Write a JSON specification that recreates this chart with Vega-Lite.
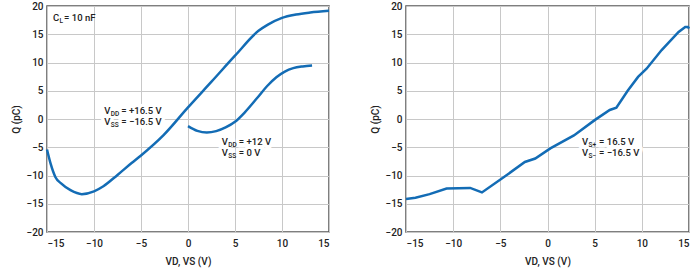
{
  "$schema": "https://vega.github.io/schema/vega-lite/v6.json",
  "background": "white",
  "padding": {"left": 10, "top": 0, "right": 11, "bottom": 6},
  "bounds": "flush",
  "spacing": 77,
  "config": {
    "font": "Roboto",
    "view": {"stroke": "#555555", "strokeWidth": 1.5},
    "axis": {
      "grid": true, "gridColor": "#c8c8c8", "gridWidth": 1,
      "domain": false, "ticks": false,
      "labelFont": "Roboto", "labelFontSize": 10, "labelFontWeight": 500, "labelColor": "#222222",
      "titleFont": "Roboto", "titleFontSize": 10, "titleFontWeight": 500, "titleColor": "#222222"
    },
    "axisX": {"labelPadding": 6, "titlePadding": 8},
    "axisY": {"labelPadding": 4, "titlePadding": 5}
  },
  "datasets": {
    "left_curves": [
      {"series": "A", "v": -15, "q": -5.4},
      {"series": "A", "v": -14.6, "q": -8.0},
      {"series": "A", "v": -14.1, "q": -10.3},
      {"series": "A", "v": -13.5, "q": -11.4},
      {"series": "A", "v": -12.5, "q": -12.6},
      {"series": "A", "v": -11.3, "q": -13.3},
      {"series": "A", "v": -10, "q": -12.8},
      {"series": "A", "v": -9, "q": -11.9},
      {"series": "A", "v": -7.5, "q": -9.9},
      {"series": "A", "v": -6, "q": -7.8},
      {"series": "A", "v": -5, "q": -6.45},
      {"series": "A", "v": -2.6, "q": -2.85},
      {"series": "A", "v": 0, "q": 2.05},
      {"series": "A", "v": 2.5, "q": 6.6},
      {"series": "A", "v": 5, "q": 11.2},
      {"series": "A", "v": 7.5, "q": 15.6},
      {"series": "A", "v": 8.5, "q": 16.7},
      {"series": "A", "v": 10, "q": 17.9},
      {"series": "A", "v": 11.5, "q": 18.5},
      {"series": "A", "v": 13, "q": 18.85},
      {"series": "A", "v": 15, "q": 19.15},
      {"series": "B", "v": 0, "q": -1.25},
      {"series": "B", "v": 1, "q": -2.1},
      {"series": "B", "v": 2, "q": -2.4},
      {"series": "B", "v": 3, "q": -2.15},
      {"series": "B", "v": 4, "q": -1.5},
      {"series": "B", "v": 5, "q": -0.5},
      {"series": "B", "v": 6, "q": 1.1},
      {"series": "B", "v": 7.4, "q": 3.8},
      {"series": "B", "v": 8.4, "q": 5.8},
      {"series": "B", "v": 9.4, "q": 7.4},
      {"series": "B", "v": 10.3, "q": 8.4},
      {"series": "B", "v": 11.2, "q": 9.0},
      {"series": "B", "v": 12.2, "q": 9.3},
      {"series": "B", "v": 13.2, "q": 9.45}
    ],
    "right_curve": [
      {"v": -15, "q": -14.15},
      {"v": -14, "q": -13.95},
      {"v": -12.5, "q": -13.3},
      {"v": -10.7, "q": -12.3},
      {"v": -8.2, "q": -12.2},
      {"v": -6.95, "q": -13.0},
      {"v": -4.8, "q": -10.5},
      {"v": -2.4, "q": -7.6},
      {"v": -1.3, "q": -7.0},
      {"v": 0.3, "q": -5.2},
      {"v": 2.8, "q": -2.9},
      {"v": 5, "q": -0.2},
      {"v": 6.6, "q": 1.6},
      {"v": 7.3, "q": 2.0},
      {"v": 8.5, "q": 5.0},
      {"v": 9.6, "q": 7.45},
      {"v": 10.5, "q": 8.9},
      {"v": 12.1, "q": 12.2},
      {"v": 13.9, "q": 15.4},
      {"v": 14.6, "q": 16.3},
      {"v": 14.9, "q": 16.3},
      {"v": 15, "q": 16.0}
    ],
    "left_notes": [
      {"v": -8.9, "q": 1.4, "m": "V", "s": "DD", "r": "= +16.5 V"},
      {"v": -8.9, "q": -0.6, "m": "V", "s": "SS", "r": "= −16.5 V"},
      {"v": 3.6, "q": -4.05, "m": "V", "s": "DD", "r": "= +12 V"},
      {"v": 3.6, "q": -6.0, "m": "V", "s": "SS", "r": "= 0 V"}
    ],
    "cl_note": [
      {"v": -14.35, "q": 17.8, "m": "C", "s": "L", "r": "= 10 nF"}
    ],
    "right_notes": [
      {"v": 3.66, "q": -4.05, "m": "V", "s": "S+", "r": "= 16.5 V"},
      {"v": 3.66, "q": -6.0, "m": "V", "s": "S−", "r": "= −16.5 V"}
    ]
  },
  "hconcat": [
    {
      "width": 282,
      "height": 226,
      "encoding": {
        "x": {"field": "v", "type": "quantitative", "title": "VD, VS (V)",
              "scale": {"domain": [-15, 15], "nice": false},
              "axis": {"values": [-15, -10, -5, 0, 5, 10, 15]}},
        "y": {"field": "q", "type": "quantitative", "title": "Q (pC)",
              "scale": {"domain": [-20, 20], "nice": false},
              "axis": {"values": [-20, -15, -10, -5, 0, 5, 10, 15, 20]}}
      },
      "layer": [
        {"data": {"name": "left_notes"},
         "mark": {"type": "text", "align": "left", "baseline": "middle", "fontSize": 9.5, "fontWeight": 500, "color": "white", "stroke": "white", "strokeWidth": 7, "strokeJoin": "round"},
         "encoding": {"text": {"field": "m"}}},
        {"data": {"name": "left_notes"},
         "mark": {"type": "text", "align": "left", "baseline": "middle", "dx": 17, "fontSize": 9.5, "fontWeight": 500, "color": "white", "stroke": "white", "strokeWidth": 7, "strokeJoin": "round"},
         "encoding": {"text": {"field": "r"}}},
        {"data": {"name": "left_curves"},
         "mark": {"type": "line", "interpolate": "monotone", "color": "#136cb5", "strokeWidth": 2.5},
         "encoding": {"detail": {"field": "series"}}},
        {"data": {"name": "left_notes"},
         "mark": {"type": "text", "align": "left", "baseline": "middle", "fontSize": 9.5, "fontWeight": 500, "color": "#222222"},
         "encoding": {"text": {"field": "m"}}},
        {"data": {"name": "left_notes"},
         "mark": {"type": "text", "align": "left", "baseline": "middle", "dx": 6.5, "dy": 3, "fontSize": 6.5, "fontWeight": 500, "color": "#222222"},
         "encoding": {"text": {"field": "s"}}},
        {"data": {"name": "left_notes"},
         "mark": {"type": "text", "align": "left", "baseline": "middle", "dx": 17, "fontSize": 9.5, "fontWeight": 500, "color": "#222222"},
         "encoding": {"text": {"field": "r"}}},
        {"data": {"name": "cl_note"},
         "mark": {"type": "text", "align": "left", "baseline": "middle", "fontSize": 9.5, "fontWeight": 500, "color": "#222222"},
         "encoding": {"text": {"field": "m"}}},
        {"data": {"name": "cl_note"},
         "mark": {"type": "text", "align": "left", "baseline": "middle", "dx": 6.3, "dy": 3, "fontSize": 6.5, "fontWeight": 500, "color": "#222222"},
         "encoding": {"text": {"field": "s"}}},
        {"data": {"name": "cl_note"},
         "mark": {"type": "text", "align": "left", "baseline": "middle", "dx": 11, "fontSize": 9.5, "fontWeight": 500, "color": "#222222"},
         "encoding": {"text": {"field": "r"}}}
      ]
    },
    {
      "width": 283,
      "height": 226,
      "encoding": {
        "x": {"field": "v", "type": "quantitative", "title": "VD, VS (V)",
              "scale": {"domain": [-15, 15], "nice": false},
              "axis": {"values": [-15, -10, -5, 0, 5, 10, 15]}},
        "y": {"field": "q", "type": "quantitative", "title": "Q (pC)",
              "scale": {"domain": [-20, 20], "nice": false},
              "axis": {"values": [-20, -15, -10, -5, 0, 5, 10, 15, 20]}}
      },
      "layer": [
        {"data": {"name": "right_notes"},
         "mark": {"type": "text", "align": "left", "baseline": "middle", "fontSize": 9.5, "fontWeight": 500, "color": "white", "stroke": "white", "strokeWidth": 7, "strokeJoin": "round"},
         "encoding": {"text": {"field": "m"}}},
        {"data": {"name": "right_notes"},
         "mark": {"type": "text", "align": "left", "baseline": "middle", "dx": 17, "fontSize": 9.5, "fontWeight": 500, "color": "white", "stroke": "white", "strokeWidth": 7, "strokeJoin": "round"},
         "encoding": {"text": {"field": "r"}}},
        {"data": {"name": "right_curve"},
         "mark": {"type": "line", "interpolate": "linear", "color": "#136cb5", "strokeWidth": 2.5},
         "encoding": {}},
        {"data": {"name": "right_notes"},
         "mark": {"type": "text", "align": "left", "baseline": "middle", "fontSize": 9.5, "fontWeight": 500, "color": "#222222"},
         "encoding": {"text": {"field": "m"}}},
        {"data": {"name": "right_notes"},
         "mark": {"type": "text", "align": "left", "baseline": "middle", "dx": 6.5, "dy": 3, "fontSize": 6.5, "fontWeight": 500, "color": "#222222"},
         "encoding": {"text": {"field": "s"}}},
        {"data": {"name": "right_notes"},
         "mark": {"type": "text", "align": "left", "baseline": "middle", "dx": 17, "fontSize": 9.5, "fontWeight": 500, "color": "#222222"},
         "encoding": {"text": {"field": "r"}}}
      ]
    }
  ]
}
